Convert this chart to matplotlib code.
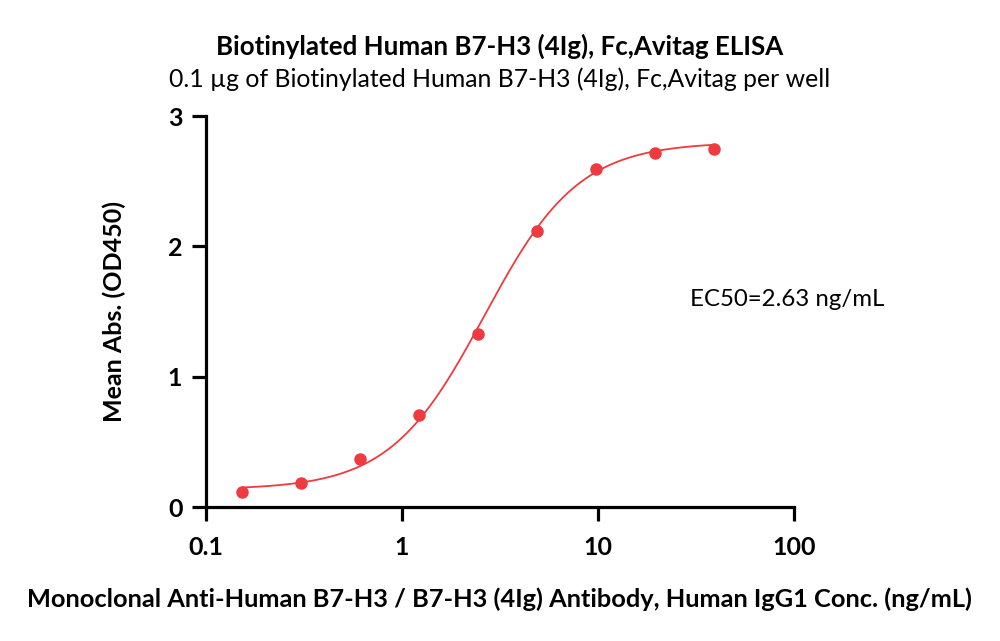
import numpy as np
import matplotlib
matplotlib.use("Agg")
import matplotlib.pyplot as plt

# 2-fold dilution series, ng/mL, and mean OD450
conc = [0.152, 0.305, 0.61, 1.22, 2.44, 4.88, 9.77, 19.5, 39.0]
od450 = [0.112, 0.184, 0.372, 0.709, 1.331, 2.121, 2.590, 2.717, 2.745]
# 4PL fit parameters (bottom, top, EC50, hill)
fit_bottom, fit_top, fit_ec50, fit_hill = 0.134, 2.80, 2.63, 1.8

RED = "#ee3b3f"
plt.rcParams["font.family"] = ["Lato", "DejaVu Sans"]

fig = plt.figure(figsize=(10, 6.41), dpi=100)
ax = fig.add_axes([0.206, 0.209, 0.588, 0.610])

xs = np.logspace(np.log10(conc[0]), np.log10(conc[-1]), 300)
ys = fit_bottom + (fit_top - fit_bottom) / (1 + (fit_ec50 / xs) ** fit_hill)
ax.plot(xs, ys, color=RED, lw=1.3, zorder=2)
ax.plot(conc, od450, "o", ms=8, color=RED, mec=RED, zorder=3)

ax.set_xscale("log")
ax.set_xlim(0.1, 100)
ax.set_ylim(0, 3)
ax.set_xticks([0.1, 1, 10, 100])
ax.set_xticklabels(["0.1", "1", "10", "100"])
ax.set_yticks([0, 1, 2, 3])
ax.xaxis.set_minor_locator(matplotlib.ticker.NullLocator())
for s in ["top", "right"]:
    ax.spines[s].set_visible(False)
for s in ["left", "bottom"]:
    ax.spines[s].set_linewidth(2.3)
ax.tick_params(width=2.3, length=10, labelsize=18)
ax.tick_params(axis="x", pad=11)
ax.tick_params(axis="y", pad=7)
for lab in ax.get_xticklabels() + ax.get_yticklabels():
    lab.set_fontweight("bold")

ax.set_xlabel("Monoclonal Anti-Human B7-H3 / B7-H3 (4Ig) Antibody, Human IgG1 Conc. (ng/mL)",
              fontsize=18.3, fontweight="bold", labelpad=20)
ax.set_ylabel("Mean Abs. (OD450)", fontsize=18, fontweight="bold", labelpad=30)
ax.text(92, 1.59, "EC50=2.63 ng/mL", fontsize=17.3, ha="center", va="center")

fig.text(0.5, 0.928, "Biotinylated Human B7-H3 (4Ig), Fc,Avitag ELISA", fontsize=18.6,
         fontweight="bold", ha="center", va="center")
fig.text(0.5, 0.876, "0.1 µg of Biotinylated Human B7-H3 (4Ig), Fc,Avitag per well", fontsize=17.8,
         ha="center", va="center")

fig.savefig("out.png", dpi=100, facecolor="white")
